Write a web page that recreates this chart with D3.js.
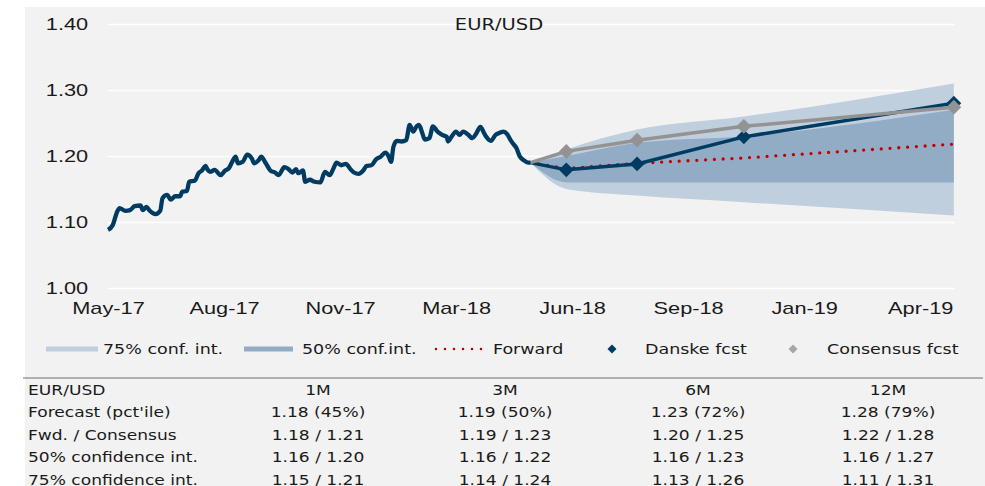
<!DOCTYPE html>
<html>
<head>
<meta charset="utf-8">
<script src="https://cdn.jsdelivr.net/npm/d3@7"></script>
<style>
  body { margin: 0; background: #fff; }
  svg { display: block; font-family: "DejaVu Sans", sans-serif; }
</style>
</head>
<body>
<svg width="985" height="486"></svg>
<script>
// historical EUR/USD
var histDates = [
  "2017-05-12","2017-05-16","2017-05-20","2017-05-22","2017-05-27","2017-05-31","2017-06-04","2017-06-09",
  "2017-06-11","2017-06-14","2017-06-17","2017-06-22","2017-06-26","2017-06-28","2017-07-02","2017-07-05",
  "2017-07-09","2017-07-13","2017-07-15","2017-07-19","2017-07-21","2017-07-26","2017-07-29","2017-08-01",
  "2017-08-04","2017-08-06","2017-08-08","2017-08-12","2017-08-17","2017-08-21","2017-08-24","2017-08-27",
  "2017-08-30","2017-09-01","2017-09-05","2017-09-09","2017-09-13","2017-09-15","2017-09-19","2017-09-21",
  "2017-09-25","2017-09-29","2017-10-03","2017-10-06","2017-10-11","2017-10-14","2017-10-18","2017-10-21",
  "2017-10-23","2017-10-27","2017-10-29","2017-11-02","2017-11-06","2017-11-11","2017-11-15","2017-11-19",
  "2017-11-22","2017-11-25","2017-11-29","2017-12-03","2017-12-07","2017-12-10","2017-12-14","2017-12-18",
  "2017-12-21","2017-12-25","2017-12-29","2018-01-02","2018-01-06","2018-01-09","2018-01-11","2018-01-13",
  "2018-01-16","2018-01-20","2018-01-24","2018-01-27","2018-01-30","2018-02-02","2018-02-04","2018-02-07",
  "2018-02-09","2018-02-13","2018-02-16","2018-02-20","2018-02-24","2018-02-28","2018-03-01","2018-03-04",
  "2018-03-08","2018-03-11","2018-03-14","2018-03-18","2018-03-22","2018-03-25","2018-03-29","2018-04-01",
  "2018-04-03","2018-04-07","2018-04-11","2018-04-13","2018-04-18","2018-04-21","2018-04-24","2018-04-26",
  "2018-04-29","2018-05-02","2018-05-05","2018-05-09","2018-05-11"
];
var histValues = [
  1.088,1.095,1.116,1.121,1.117,1.118,1.124,1.125,
  1.118,1.123,1.117,1.112,1.117,1.136,1.141,1.134,
  1.139,1.139,1.146,1.147,1.161,1.163,1.174,1.178,
  1.185,1.179,1.176,1.179,1.171,1.178,1.181,1.191,
  1.199,1.189,1.191,1.202,1.196,1.189,1.194,1.199,
  1.189,1.178,1.175,1.171,1.183,1.181,1.175,1.180,
  1.174,1.178,1.161,1.164,1.161,1.160,1.176,1.171,
  1.180,1.190,1.186,1.188,1.180,1.175,1.173,1.178,
  1.185,1.186,1.195,1.199,1.205,1.199,1.191,1.214,
  1.223,1.222,1.224,1.247,1.237,1.245,1.247,1.234,
  1.225,1.227,1.245,1.237,1.232,1.229,1.222,1.229,
  1.237,1.232,1.237,1.233,1.227,1.233,1.244,1.235,
  1.229,1.223,1.232,1.234,1.237,1.233,1.224,1.219,
  1.212,1.199,1.194,1.190,1.190
];

// forecast horizons: spot, 1M, 3M, 6M, 12M
var fcstDates = ["2018-05-11","2018-06-11","2018-08-11","2018-11-11","2019-05-11"];
var danske    = [1.190, 1.179, 1.188, 1.229, 1.280];
var consensus = [1.190, 1.207, 1.224, 1.245, 1.274];
var forward   = [1.190, 1.181, 1.189, 1.197, 1.218];
var ci50Low   = [1.190, 1.160, 1.160, 1.160, 1.160];
var ci50High  = [1.190, 1.200, 1.220, 1.230, 1.270];
var ci75Low   = [1.190, 1.150, 1.140, 1.130, 1.110];
var ci75High  = [1.190, 1.210, 1.240, 1.260, 1.310];

var yTicks = [1.00, 1.10, 1.20, 1.30, 1.40];
var xStart = "2017-05-12", xEnd = "2019-05-12";

var tableHeader = ["EUR/USD", "1M", "3M", "6M", "12M"];
var rowLabels = ["Forecast (pct'ile)", "Fwd. / Consensus", "50% confidence int.", "75% confidence int."];
var rowForecast  = ["1.18 (45%)", "1.19 (50%)", "1.23 (72%)", "1.28 (79%)"];
var rowFwdCons   = ["1.18 / 1.21", "1.19 / 1.23", "1.20 / 1.25", "1.22 / 1.28"];
var rowCi50      = ["1.16 / 1.20", "1.16 / 1.22", "1.16 / 1.23", "1.16 / 1.27"];
var rowCi75      = ["1.15 / 1.21", "1.14 / 1.24", "1.13 / 1.26", "1.11 / 1.31"];

var navy = '#003b62', grey = '#939393', red = '#c00000';
var c75 = '#c0cfdd', c50 = '#93acc5';
var textCol = '#1a1a1a';

var parse = d3.timeParse('%Y-%m-%d');
var hist = histDates.map((d, i) => ({date: parse(d), v: histValues[i]}));
var fc = fcstDates.map((d, i) => ({
  date: parse(d), danske: danske[i], cons: consensus[i], fwd: forward[i],
  lo50: ci50Low[i], hi50: ci50High[i], lo75: ci75Low[i], hi75: ci75High[i]
}));

var svg = d3.select('svg');

// panel background
svg.append('rect').attr('x', 25).attr('y', 7).attr('width', 960).attr('height', 479).attr('fill', '#f2f2f2');

// scales -------------------------------------------------------------------
var x = d3.scaleTime().domain([parse(xStart), parse(xEnd)]).range([108, 955]);
var y = d3.scaleLinear().domain([1.0, 1.4]).range([288, 24]);

// gridlines
var grid = svg.append('g').attr('transform', 'translate(108,0)')
  .call(d3.axisLeft(y).tickValues(yTicks).tickSize(-847).tickFormat(''));
grid.select('.domain').remove();
grid.selectAll('line').attr('stroke', '#fff').attr('stroke-width', 1.3);

// the house font is wide, so labels get stretched horizontally
var wide = 1.28;

// y labels
var yAxis = svg.append('g').attr('transform', 'translate(108,0)')
  .call(d3.axisLeft(y).tickValues(yTicks).tickSize(0).tickPadding(15.5).tickFormat(d3.format('.2f')));
yAxis.select('.domain').remove();
yAxis.selectAll('text').attr('fill', textCol).style('font-size', '17px')
  .attr('transform', 'scale(' + wide + ',1)');

// x labels every 100 days
var xTicks = d3.range(0, 8).map(i => d3.timeDay.offset(parse(xStart), i * 100));
var xAxis = svg.append('g').attr('transform', 'translate(0,288)')
  .call(d3.axisBottom(x).tickValues(xTicks).tickSize(0).tickPadding(14).tickFormat(d3.timeFormat('%b-%y')));
xAxis.select('.domain').remove();
xAxis.selectAll('text').attr('fill', textCol).style('font-size', '17px')
  .attr('transform', 'scale(' + wide + ',1)');

// confidence bands
var area = (lo, hi) => d3.area().x(d => x(d.date)).y0(d => y(d[lo])).y1(d => y(d[hi])).curve(d3.curveMonotoneX);
svg.append('path').datum(fc).attr('d', area('lo75', 'hi75')).attr('fill', c75);
svg.append('path').datum(fc).attr('d', area('lo50', 'hi50')).attr('fill', c50);

// lines
var line = key => d3.line().x(d => x(d.date)).y(d => y(d[key]));
svg.append('path').datum(fc).attr('d', line('fwd')).attr('fill', 'none').attr('stroke', red)
  .attr('stroke-width', 3.3).attr('stroke-linecap', 'round').attr('stroke-dasharray', '0,8.8');
svg.append('path').datum(fc).attr('d', line('danske')).attr('fill', 'none').attr('stroke', navy).attr('stroke-width', 3.5);
svg.append('path').datum(fc).attr('d', line('cons')).attr('fill', 'none').attr('stroke', grey).attr('stroke-width', 3.5);

svg.append('path').datum(hist)
  .attr('d', d3.line().x(d => x(d.date)).y(d => y(d.v)).curve(d3.curveMonotoneX))
  .attr('fill', 'none').attr('stroke', navy).attr('stroke-width', 4.3).attr('stroke-linejoin', 'round');

// markers
var diamond = d3.symbol().type(d3.symbolSquare).size(110);
svg.selectAll('.dm').data(fc.slice(1)).enter().append('path')
  .attr('d', diamond).attr('fill', navy)
  .attr('transform', d => 'translate(' + x(d.date) + ',' + y(d.danske) + ') rotate(45)');
svg.selectAll('.cm').data(fc.slice(1)).enter().append('path')
  .attr('d', diamond).attr('fill', grey)
  .attr('transform', d => 'translate(' + x(d.date) + ',' + y(d.cons) + ') rotate(45)');

// text helper: stretched label placed at (tx, ty)
function label(tx, ty, s, opts) {
  opts = opts || {};
  return svg.append('text')
    .attr('transform', 'translate(' + tx + ',' + ty + ') scale(' + (opts.sx || 1.22) + ',1)')
    .attr('text-anchor', opts.anchor || 'start')
    .attr('fill', textCol).style('font-size', (opts.size || 14) + 'px').text(s);
}

// title
label(499, 30, 'EUR/USD', {anchor: 'middle', size: 15, sx: 1.3});

// legend -------------------------------------------------------------------
var ly = 349;
var legText = (tx, s) => label(tx, ly + 5, s, {sx: 1.25});
svg.append('rect').attr('x', 46).attr('y', ly - 2.5).attr('width', 52).attr('height', 5).attr('fill', c75);
legText(103, '75% conf. int.');
svg.append('rect').attr('x', 244).attr('y', ly - 2.5).attr('width', 49).attr('height', 5).attr('fill', c50);
legText(302, '50% conf.int.');
svg.append('line').attr('x1', 436).attr('x2', 486).attr('y1', ly).attr('y2', ly).attr('stroke', red)
  .attr('stroke-width', 2.6).attr('stroke-linecap', 'round').attr('stroke-dasharray', '0,9');
legText(493, 'Forward');
var legDiamond = d3.symbol().type(d3.symbolSquare).size(40);
svg.append('path').attr('d', legDiamond).attr('fill', navy).attr('transform', 'translate(612,' + ly + ') rotate(45)');
legText(645, 'Danske fcst');
svg.append('path').attr('d', legDiamond).attr('fill', '#a6a6a6').attr('transform', 'translate(793,' + ly + ') rotate(45)');
legText(827, 'Consensus fcst');

// separator
svg.append('line').attr('x1', 23).attr('x2', 983).attr('y1', 378).attr('y2', 378)
  .attr('stroke', '#9a9a9a').attr('stroke-width', 1.5);

// table --------------------------------------------------------------------
var colX = [318, 505, 698, 888];
var rows = [rowForecast, rowFwdCons, rowCi50, rowCi75];
var rowY = [395, 417, 440, 462, 485];

label(28, rowY[0], tableHeader[0]);
tableHeader.slice(1).forEach((h, i) => label(colX[i], rowY[0], h, {anchor: 'middle'}));
rows.forEach((r, ri) => {
  label(28, rowY[ri + 1], rowLabels[ri]);
  r.forEach((s, ci) => label(colX[ci], rowY[ri + 1], s, {anchor: 'middle'}));
});
</script>
</body>
</html>
